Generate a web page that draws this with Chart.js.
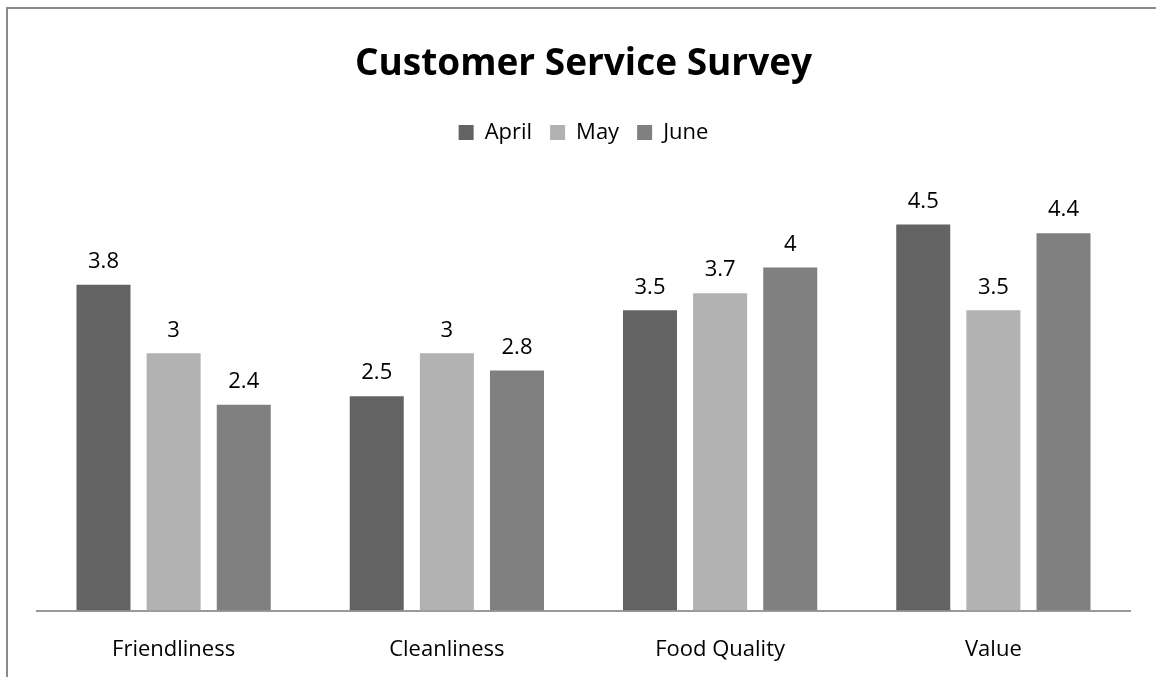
<!DOCTYPE html>
<html>
<head>
<meta charset="utf-8">
<script src="https://cdn.jsdelivr.net/npm/chart.js@4.4.1/dist/chart.umd.min.js"></script>
<style>
  html, body { margin: 0; padding: 0; background: #fff; }
  #wrap { position: relative; width: 1156px; height: 677px; }
  #frame { position: absolute; left: 6px; top: 7px; right: 0; bottom: 0;
           border-top: 2px solid #8a8a8a; border-left: 2px solid #8a8a8a; pointer-events: none; }
  canvas { position: absolute; left: 0; top: 0; }
</style>
</head>
<body>
<div id="wrap">
  <canvas id="chart" width="1156" height="677"></canvas>
  <div id="frame"></div>
</div>
<script>
// Chart data
const categories = ['Friendliness', 'Cleanliness', 'Food Quality', 'Value'];
const aprilScores = [3.8, 2.5, 3.5, 4.5];
const mayScores = [3, 3, 3.7, 3.5];
const juneScores = [2.4, 2.8, 4, 4.4];

const FONT = "'Open Sans', sans-serif";

// Draws the value above each bar
const valueLabels = {
    id: 'valueLabels',
    afterDatasetsDraw(chart) {
        const ctx = chart.ctx;
        ctx.save();
        ctx.font = '22px ' + FONT;
        ctx.fillStyle = '#000';
        ctx.textAlign = 'center';
        ctx.textBaseline = 'bottom';
        chart.data.datasets.forEach((ds, i) => {
            chart.getDatasetMeta(i).data.forEach((bar, j) => {
                ctx.fillText(String(ds.data[j]), bar.x, bar.y - 12);
            });
        });
        ctx.restore();
    }
};

const ctx = document.getElementById('chart').getContext('2d');
new Chart(ctx, {
    type: 'bar',
    data: {
        labels: categories,
        datasets: [
            { label: 'April', data: aprilScores, backgroundColor: '#636363' },
            { label: 'May', data: mayScores, backgroundColor: '#b2b2b2' },
            { label: 'June', data: juneScores, backgroundColor: '#808080' }
        ]
    },
    options: {
        responsive: false,
        animation: false,
        layout: { padding: { left: 37, right: 26, top: 22, bottom: -4 } },
        datasets: {
            bar: { categoryPercentage: 0.77, barPercentage: 0.77 }
        },
        plugins: {
            title: {
                display: true,
                text: 'Customer Service Survey',
                color: '#000',
                font: { family: FONT, size: 37, weight: 'bold' },
                padding: { top: 20, bottom: 17 }
            },
            legend: {
                position: 'top',
                labels: {
                    color: '#000',
                    font: { family: FONT, size: 22 },
                    boxWidth: 15,
                    boxHeight: 15,
                    padding: 18
                }
            },
            tooltip: { enabled: false }
        },
        scales: {
            x: {
                grid: { display: false },
                border: { color: '#999', width: 2 },
                ticks: { color: '#000', font: { family: FONT, size: 22 }, padding: 18 }
            },
            y: {
                display: false,
                min: 0,
                max: 5.33
            }
        }
    },
    plugins: [valueLabels]
});
</script>
</body>
</html>
